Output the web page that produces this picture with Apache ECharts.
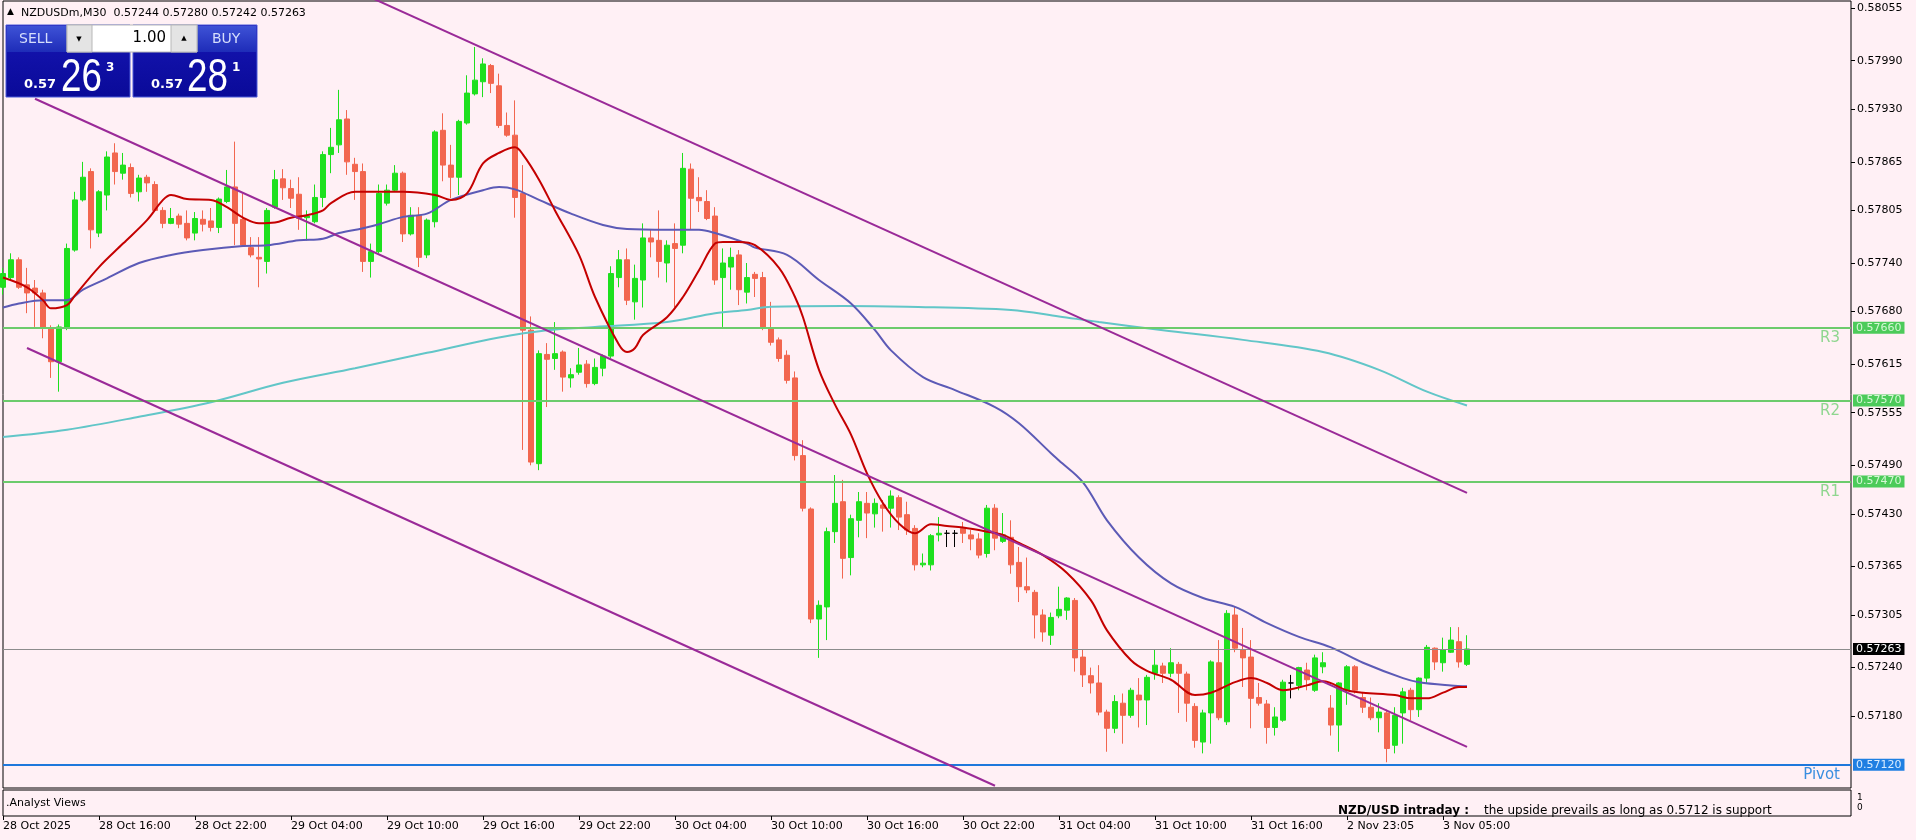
<!DOCTYPE html>
<html><head><meta charset="utf-8">
<script src="https://cdn.jsdelivr.net/npm/echarts@6/dist/echarts.min.js"></script>
<style>html,body{margin:0;padding:0;background:#FFF0F5;}#c{width:1916px;height:840px;}</style>
</head><body><div id="c"></div>
<script>
// ---------------- DATA ----------------
const symbolName = 'NZDUSDm,M30';
const tickLabels = ['28 Oct 2025','28 Oct 16:00','28 Oct 22:00','29 Oct 04:00','29 Oct 10:00','29 Oct 16:00','29 Oct 22:00','30 Oct 04:00','30 Oct 10:00','30 Oct 16:00','30 Oct 22:00','31 Oct 04:00','31 Oct 10:00','31 Oct 16:00','2 Nov 23:05','3 Nov 05:00'];
const open = [0.57710,0.57722,0.57744,0.57713,0.57709,0.57703,0.57660,0.57618,0.57661,0.57756,0.57818,0.57853,0.57777,0.57824,0.57876,0.57851,0.57858,0.57828,0.57846,0.57837,0.57805,0.57789,0.57798,0.57789,0.57777,0.57794,0.57792,0.57784,0.57816,0.57834,0.57794,0.57759,0.57747,0.57742,0.57809,0.57844,0.57832,0.57825,0.57796,0.57791,0.57821,0.57874,0.57886,0.57918,0.57862,0.57853,0.57742,0.57754,0.57814,0.57830,0.57851,0.57776,0.57799,0.57750,0.57791,0.57904,0.57861,0.57846,0.57913,0.57949,0.57964,0.57984,0.57959,0.57910,0.57898,0.57826,0.57657,0.57492,0.57627,0.57622,0.57630,0.57598,0.57605,0.57615,0.57591,0.57610,0.57625,0.57722,0.57744,0.57692,0.57719,0.57771,0.57768,0.57740,0.57764,0.57762,0.57856,0.57821,0.57816,0.57798,0.57722,0.57735,0.57750,0.57704,0.57726,0.57722,0.57660,0.57645,0.57626,0.57598,0.57502,0.57436,0.57300,0.57315,0.57408,0.57445,0.57376,0.57422,0.57443,0.57430,0.57441,0.57437,0.57450,0.57429,0.57412,0.57367,0.57367,0.57404,0.57406,0.57406,0.57412,0.57404,0.57399,0.57381,0.57437,0.57396,0.57401,0.57370,0.57340,0.57333,0.57305,0.57280,0.57304,0.57311,0.57323,0.57253,0.57230,0.57221,0.57185,0.57165,0.57196,0.57181,0.57206,0.57200,0.57233,0.57242,0.57233,0.57244,0.57232,0.57192,0.57148,0.57184,0.57246,0.57173,0.57305,0.57262,0.57253,0.57203,0.57195,0.57166,0.57175,0.57221,0.57218,0.57237,0.57212,0.57241,0.57190,0.57169,0.57212,0.57241,0.57203,0.57191,0.57178,0.57184,0.57144,0.57184,0.57212,0.57188,0.57227,0.57264,0.57246,0.57259,0.57272,0.57244];
const high = [0.57734,0.57752,0.57747,0.57734,0.57719,0.57707,0.57663,0.57664,0.57764,0.57828,0.57865,0.57857,0.57830,0.57878,0.57888,0.57876,0.57863,0.57849,0.57849,0.57841,0.57809,0.57808,0.57801,0.57805,0.57803,0.57805,0.57808,0.57821,0.57855,0.57890,0.57826,0.57772,0.57772,0.57808,0.57855,0.57856,0.57843,0.57846,0.57805,0.57837,0.57878,0.57907,0.57954,0.57929,0.57870,0.57863,0.57764,0.57837,0.57837,0.57861,0.57853,0.57809,0.57809,0.57795,0.57904,0.57925,0.57886,0.57917,0.57972,0.58007,0.57993,0.57986,0.57974,0.57926,0.57941,0.57861,0.57674,0.57632,0.57641,0.57667,0.57632,0.57610,0.57635,0.57620,0.57622,0.57627,0.57736,0.57756,0.57758,0.57738,0.57789,0.57781,0.57805,0.57768,0.57789,0.57876,0.57863,0.57846,0.57830,0.57809,0.57758,0.57759,0.57756,0.57740,0.57729,0.57729,0.57692,0.57648,0.57632,0.57606,0.57521,0.57438,0.57323,0.57413,0.57478,0.57472,0.57429,0.57457,0.57457,0.57449,0.57447,0.57459,0.57453,0.57445,0.57416,0.57381,0.57405,0.57426,0.57410,0.57410,0.57420,0.57410,0.57406,0.57441,0.57442,0.57431,0.57422,0.57389,0.57376,0.57336,0.57312,0.57308,0.57340,0.57327,0.57326,0.57262,0.57240,0.57243,0.57188,0.57206,0.57208,0.57215,0.57227,0.57231,0.57262,0.57246,0.57264,0.57247,0.57235,0.57196,0.57188,0.57249,0.57274,0.57311,0.57315,0.57289,0.57274,0.57221,0.57200,0.57191,0.57225,0.57231,0.57241,0.57246,0.57256,0.57259,0.57206,0.57222,0.57243,0.57243,0.57210,0.57203,0.57196,0.57188,0.57191,0.57215,0.57215,0.57228,0.57268,0.57265,0.57277,0.57290,0.57290,0.57280];
const low = [0.57701,0.57719,0.57708,0.57678,0.57661,0.57647,0.57598,0.57581,0.57657,0.57754,0.57816,0.57758,0.57772,0.57805,0.57837,0.57843,0.57821,0.57816,0.57828,0.57803,0.57783,0.57788,0.57783,0.57768,0.57768,0.57779,0.57779,0.57777,0.57814,0.57762,0.57760,0.57747,0.57710,0.57727,0.57807,0.57818,0.57808,0.57781,0.57768,0.57789,0.57809,0.57851,0.57876,0.57849,0.57818,0.57729,0.57722,0.57752,0.57811,0.57828,0.57766,0.57774,0.57735,0.57746,0.57784,0.57841,0.57820,0.57824,0.57911,0.57947,0.57945,0.57950,0.57907,0.57896,0.57796,0.57509,0.57490,0.57484,0.57562,0.57608,0.57581,0.57586,0.57602,0.57586,0.57589,0.57600,0.57622,0.57710,0.57688,0.57670,0.57685,0.57747,0.57722,0.57716,0.57685,0.57752,0.57781,0.57803,0.57793,0.57713,0.57661,0.57707,0.57688,0.57690,0.57698,0.57657,0.57638,0.57618,0.57591,0.57496,0.57433,0.57295,0.57252,0.57274,0.57394,0.57350,0.57354,0.57401,0.57400,0.57413,0.57408,0.57413,0.57410,0.57404,0.57360,0.57364,0.57360,0.57396,0.57389,0.57389,0.57394,0.57385,0.57375,0.57376,0.57385,0.57394,0.57356,0.57321,0.57332,0.57276,0.57272,0.57268,0.57301,0.57299,0.57235,0.57216,0.57208,0.57181,0.57136,0.57159,0.57146,0.57178,0.57166,0.57169,0.57225,0.57221,0.57228,0.57184,0.57173,0.57141,0.57134,0.57146,0.57175,0.57169,0.57259,0.57216,0.57165,0.57193,0.57146,0.57156,0.57173,0.57202,0.57212,0.57212,0.57210,0.57233,0.57156,0.57136,0.57194,0.57208,0.57184,0.57175,0.57160,0.57123,0.57134,0.57146,0.57175,0.57179,0.57221,0.57237,0.57235,0.57258,0.57240,0.57242];
const close = [0.57727,0.57744,0.57710,0.57703,0.57703,0.57660,0.57618,0.57661,0.57758,0.57818,0.57846,0.57781,0.57828,0.57871,0.57853,0.57861,0.57826,0.57845,0.57839,0.57805,0.57789,0.57795,0.57788,0.57771,0.57795,0.57788,0.57784,0.57819,0.57834,0.57789,0.57762,0.57750,0.57745,0.57805,0.57843,0.57833,0.57820,0.57795,0.57798,0.57821,0.57874,0.57883,0.57917,0.57865,0.57853,0.57742,0.57754,0.57826,0.57830,0.57851,0.57776,0.57799,0.57747,0.57793,0.57902,0.57861,0.57846,0.57915,0.57950,0.57966,0.57986,0.57962,0.57910,0.57898,0.57821,0.57657,0.57494,0.57628,0.57621,0.57628,0.57599,0.57602,0.57614,0.57591,0.57611,0.57625,0.57727,0.57744,0.57694,0.57721,0.57771,0.57766,0.57742,0.57762,0.57758,0.57857,0.57820,0.57817,0.57795,0.57719,0.57740,0.57747,0.57707,0.57722,0.57721,0.57661,0.57642,0.57622,0.57595,0.57502,0.57437,0.57300,0.57317,0.57408,0.57443,0.57375,0.57424,0.57445,0.57431,0.57443,0.57437,0.57452,0.57426,0.57410,0.57367,0.57369,0.57403,0.57406,0.57406,0.57406,0.57406,0.57399,0.57379,0.57437,0.57400,0.57404,0.57367,0.57340,0.57336,0.57305,0.57284,0.57302,0.57312,0.57326,0.57252,0.57231,0.57221,0.57185,0.57165,0.57198,0.57181,0.57212,0.57200,0.57228,0.57243,0.57233,0.57246,0.57233,0.57196,0.57150,0.57184,0.57247,0.57178,0.57307,0.57264,0.57252,0.57202,0.57196,0.57166,0.57179,0.57222,0.57221,0.57240,0.57225,0.57252,0.57246,0.57169,0.57221,0.57241,0.57212,0.57191,0.57178,0.57185,0.57140,0.57181,0.57210,0.57188,0.57227,0.57265,0.57247,0.57262,0.57274,0.57247,0.57263];
// moving averages: [bar index, price]
const maFast = [[0,0.57722],[3,0.57710],[5,0.57694],[6,0.57684],[8,0.57688],[9,0.57700],[12,0.57735],[15,0.57764],[18,0.57793],[20,0.57818],[21,0.57824],[23,0.57819],[26,0.57818],[28,0.57809],[30,0.57796],[32,0.57789],[34,0.57790],[36,0.57796],[38,0.57799],[40,0.57805],[41,0.57814],[44,0.57828],[47,0.57828],[50,0.57828],[54,0.57824],[56,0.57818],[58,0.57826],[60,0.57863],[62,0.57876],[64,0.57883],[65,0.57874],[67,0.57843],[69,0.57805],[72,0.57750],[74,0.57698],[77,0.57639],[78,0.57630],[79,0.57635],[80,0.57651],[83,0.57673],[85,0.57698],[87,0.57731],[89,0.57764],[90,0.57766],[92,0.57766],[94,0.57762],[97,0.57734],[99,0.57698],[100,0.57673],[102,0.57608],[104,0.57565],[106,0.57528],[108,0.57480],[110,0.57443],[112,0.57418],[114,0.57406],[116,0.57417],[118,0.57415],[120,0.57413],[123,0.57408],[125,0.57404],[127,0.57394],[130,0.57379],[133,0.57357],[136,0.57323],[138,0.57286],[141,0.57249],[143,0.57236],[146,0.57225],[149,0.57206],[151,0.57209],[154,0.57222],[156,0.57227],[158,0.57221],[160,0.57212],[163,0.57218],[165,0.57223],[168,0.57212],[170,0.57209],[174,0.57206],[176,0.57202],[178,0.57202],[180,0.57209],[182,0.57216],[183,0.57216]];
const maMid = [[0,0.57685],[2,0.57690],[5,0.57694],[8,0.57694],[10,0.57707],[13,0.57721],[17,0.57740],[21,0.57750],[25,0.57756],[30,0.57761],[33,0.57762],[37,0.57768],[40,0.57770],[42,0.57777],[45,0.57783],[47,0.57788],[50,0.57797],[53,0.57801],[56,0.57818],[60,0.57830],[62,0.57834],[64,0.57831],[67,0.57818],[71,0.57801],[75,0.57787],[78,0.57782],[83,0.57781],[87,0.57781],[89,0.57777],[93,0.57764],[94,0.57759],[98,0.57750],[102,0.57719],[106,0.57690],[109,0.57657],[111,0.57632],[115,0.57599],[119,0.57583],[124,0.57562],[127,0.57542],[131,0.57505],[132,0.57496],[135,0.57469],[138,0.57422],[142,0.57376],[146,0.57344],[150,0.57326],[154,0.57315],[158,0.57295],[162,0.57278],[166,0.57265],[170,0.57246],[175,0.57227],[177,0.57222],[181,0.57218],[183,0.57217]];
const maSlow = [[0,0.57525],[8,0.57534],[17,0.57550],[26,0.57568],[35,0.57592],[44,0.57610],[53,0.57629],[62,0.57648],[68,0.57657],[74,0.57661],[83,0.57667],[89,0.57678],[93,0.57682],[96,0.57686],[105,0.57687],[113,0.57686],[126,0.57682],[132,0.57674],[137,0.57667],[145,0.57657],[155,0.57645],[165,0.57630],[172,0.57608],[178,0.57581],[183,0.57564]];
const channelUpper = [[46,0.58068],[183,0.57456]];
const channelMid = [[4,0.57943],[183,0.57142]];
const channelLower = [[3,0.57635],[124,0.57094]];
const levelNames = ['R3','R2','R1','Pivot'];
const levelValues = [0.57660,0.57570,0.57470,0.57120];
const yTickValues = [0.58055,0.57990,0.57930,0.57865,0.57805,0.57740,0.57680,0.57615,0.57555,0.57490,0.57430,0.57365,0.57305,0.57240,0.57180];
const totalSlots = 232;
const labelEvery = 12;
const lotSize = '1.00';
const bidParts = ['0.57','26','3'];
const askParts = ['0.57','28','1'];
const paneName = '.Analyst Views';
const commentTitle = 'NZD/USD intraday :';
const commentText = 'the upside prevails as long as 0.5712 is support';

// ---------------- BUILD ----------------
const FONT = '"DejaVu Sans", Verdana, sans-serif';
const cats = Array.from({length: totalSlots}, (_, i) => 'b' + i);
const labelFor = i => (i % labelEvery === 0 && tickLabels[i / labelEvery]) ? tickLabels[i / labelEvery] : '';
const candleData = open.map((o, i) => {
  const item = {value: [o, close[i], low[i], high[i]]};
  if (o === close[i]) item.itemStyle = {color: '#000', color0: '#000', borderColor: '#000', borderColor0: '#000', borderColorDoji: '#000'};
  return item;
});
const last = open.length - 1;
const lastPrice = close[last];
const levelColor = n => n === 'Pivot' ? '#1e78dc' : '#6ccb6c';
const levelTextColor = n => n === 'Pivot' ? '#3a8ee0' : '#8fd68f';
const tagBg = n => n === 'Pivot' ? '#1f7fe2' : '#4ccb5a';
const tagFg = n => n === 'Pivot' ? '#d8ecff' : '#d4f7d4';

const mlData = [];
levelNames.forEach((n, k) => {
  mlData.push({yAxis: levelValues[k], lineStyle: {color: levelColor(n), width: 2, type: 'solid', opacity: 1},
    label: {show: true, position: 'insideEndBottom', formatter: n, color: levelTextColor(n), fontSize: 15, fontFamily: FONT, distance: 3, padding: [0, 8, 0, 0]}});
});
mlData.push({yAxis: lastPrice, lineStyle: {color: '#8c8c8c', width: 1, type: 'solid', opacity: 1}, label: {show: false}});
const tagLabel = (text, fg, bg) => ({show: true, position: 'end', distance: 2, formatter: text, color: fg, backgroundColor: bg, padding: [1, 3, 0, 3], fontSize: 11, fontFamily: FONT, opacity: 1});
const tagData = levelNames.map((n, k) => ({yAxis: levelValues[k], lineStyle: {color: 'rgba(0,0,0,0)', width: 1}, label: tagLabel(levelValues[k].toFixed(5), tagFg(n), tagBg(n))}));
tagData.push({yAxis: lastPrice, lineStyle: {color: 'rgba(0,0,0,0)', width: 1}, label: tagLabel(lastPrice.toFixed(5), '#fff', '#000')});

const lineS = (data, color, width, z) => ({type: 'line', data, xAxisIndex: 0, yAxisIndex: 0, showSymbol: false, symbol: 'none', smooth: 0.35, lineStyle: {color, width}, z, silent: true, animation: false});
const straight = (data, color) => ({type: 'line', data, xAxisIndex: 0, yAxisIndex: 0, showSymbol: false, symbol: 'none', lineStyle: {color, width: 2}, z: 6, silent: true, animation: false});

const ymax = 0.580638, ymin = 0.570912;

const grad = (a, b) => new echarts.graphic.LinearGradient(0, 0, 0, 1, [{offset: 0, color: a}, {offset: 1, color: b}]);
const panelBox = (x) => [
  {type: 'rect', shape: {x: x, y: 25, width: 124, height: 72}, style: {fill: grad('#1616b4', '#0a0a98'), stroke: '#4a5ad8', lineWidth: 1}},
  {type: 'rect', shape: {x: x + 1, y: 26, width: 122, height: 26}, style: {fill: grad('#3e52d6', '#1e2cb8')}},
];
const tx = (x, y, text, size, color, opts = {}, props = {}) => Object.assign({type: 'text', x, y, style: Object.assign({text, fill: color, fontSize: size, fontFamily: FONT, textAlign: 'left', textVerticalAlign: 'middle'}, opts)}, props);
const bigFont = '"Liberation Sans", Arial, sans-serif';
const graphics = [].concat(
  [tx(7, 12, '▲', 9, '#000'), tx(21, 13, symbolName + '  ' + [open[last], high[last], low[last], close[last]].map(v => v.toFixed(5)).join(' '), 11, '#000')],
  panelBox(6), panelBox(133),
  [
    {type: 'rect', shape: {x: 67, y: 25, width: 130, height: 27}, style: {fill: '#fff', stroke: '#b8b8b8', lineWidth: 1}},
    {type: 'rect', shape: {x: 67, y: 25, width: 25, height: 27}, style: {fill: '#e4e4e4', stroke: '#b8b8b8', lineWidth: 1}},
    {type: 'rect', shape: {x: 171, y: 25, width: 26, height: 27}, style: {fill: '#e4e4e4', stroke: '#b8b8b8', lineWidth: 1}},
    tx(79, 39, '▼', 7, '#000', {textAlign: 'center'}),
    tx(184, 38, '▲', 7, '#000', {textAlign: 'center'}),
    tx(166, 38, lotSize, 15, '#000', {textAlign: 'right'}),
    tx(19, 39, 'SELL', 14, '#d6defc'),
    tx(212, 39, 'BUY', 14, '#d6defc'),
    tx(24, 85, bidParts[0], 13, '#fff', {fontWeight: 'bold'}),
    tx(61, 78, bidParts[1], 46, '#fff', {fontFamily: bigFont}, {scaleX: 0.8, originX: 0, originY: 0}),
    tx(106, 68, bidParts[2], 12, '#fff', {fontWeight: 'bold'}),
    tx(151, 85, askParts[0], 13, '#fff', {fontWeight: 'bold'}),
    tx(187, 78, askParts[1], 46, '#fff', {fontFamily: bigFont}, {scaleX: 0.8, originX: 0, originY: 0}),
    tx(232, 68, askParts[2], 12, '#fff', {fontWeight: 'bold'}),
    tx(6, 803, paneName, 11, '#000'),
    tx(1338, 811, commentTitle, 12, '#000', {fontWeight: 'bold'}),
    tx(1484, 811, commentText, 12, '#000'),
    tx(1857, 798, '1', 9, '#000'),
    tx(1857, 808, '0', 9, '#000'),
  ]
);

const chart = echarts.init(document.getElementById('c'), null, {renderer: 'canvas'});
chart.setOption({
  animation: false,
  backgroundColor: '#FFF0F5',
  grid: [
    {left: 3, right: 65, top: 1, height: 787, show: true, borderColor: '#000', borderWidth: 1, backgroundColor: 'transparent'},
    {left: 3, right: 65, top: 790, height: 26, show: true, borderColor: '#000', borderWidth: 1, backgroundColor: 'transparent'}
  ],
  xAxis: [
    {type: 'category', gridIndex: 0, data: cats, boundaryGap: false, axisLine: {show: false}, axisTick: {show: false}, axisLabel: {show: false}, splitLine: {show: false}},
    {type: 'category', gridIndex: 1, data: cats, boundaryGap: false, axisLine: {show: false},
      axisTick: {show: true, inside: false, length: 4, interval: (i) => labelFor(i) !== '', lineStyle: {color: '#000'}},
      axisLabel: {show: true, interval: (i) => labelFor(i) !== '', formatter: (v, i) => labelFor(i), align: 'left', margin: 5, color: '#000', fontSize: 11, fontFamily: FONT, hideOverlap: false},
      splitLine: {show: false}}
  ],
  yAxis: [
    {type: 'value', gridIndex: 0, position: 'right', min: ymin, max: ymax, scale: true,
      axisLine: {show: false}, splitLine: {show: false},
      axisTick: {show: true, inside: false, length: 4, customValues: yTickValues, lineStyle: {color: '#000'}},
      axisLabel: {show: true, customValues: yTickValues, formatter: v => v.toFixed(5), color: '#000', fontSize: 11, fontFamily: FONT, margin: 6}},
    {type: 'value', gridIndex: 1, position: 'right', min: 0, max: 1, show: false}
  ],
  graphic: {elements: graphics},
  series: [
    {type: 'candlestick', xAxisIndex: 0, yAxisIndex: 0, data: candleData, barWidth: 5, z: 2, silent: true,
      itemStyle: {color: '#1ee01e', color0: '#f2664f', borderColor: '#1ee01e', borderColor0: '#f2664f', borderColorDoji: '#000', borderWidth: 1}},
    Object.assign(lineS(maSlow, '#62c6c8', 2, 3), {markLine: {symbol: 'none', silent: true, animation: false, precision: 5, data: mlData}}),
    lineS(maMid, '#5c5ab6', 2, 4),
    lineS(maFast, '#c40000', 2, 5),
    straight(channelUpper, '#9a2a98'),
    straight(channelMid, '#9a2a98'),
    Object.assign(straight(channelLower, '#9a2a98'), {clip: false, markLine: {symbol: 'none', silent: true, animation: false, precision: 5, z: 20, data: tagData}}),
    {type: 'line', xAxisIndex: 1, yAxisIndex: 1, data: []}
  ]
});
</script></body></html>
